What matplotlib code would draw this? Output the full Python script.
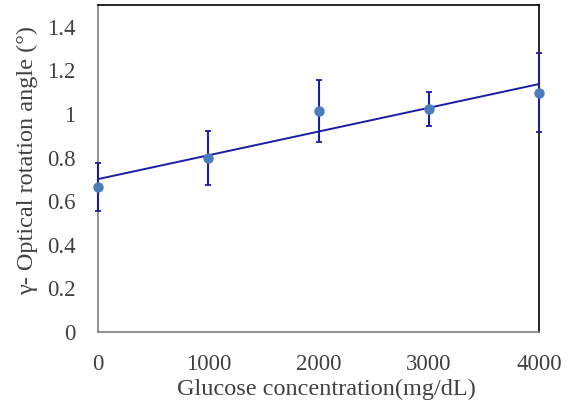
import matplotlib
matplotlib.use("Agg")
import matplotlib.pyplot as plt
import numpy as np
from matplotlib.ticker import FuncFormatter

# Data
glucose = [0, 1000, 2000, 3000, 4000]
angle = [0.665, 0.798, 1.014, 1.022, 1.098]
err = [0.108, 0.122, 0.142, 0.077, 0.182]
yticks = [0, 0.2, 0.4, 0.6, 0.8, 1.0, 1.2, 1.4]
xticks = [0, 1000, 2000, 3000, 4000]

plt.rcParams['font.family'] = ['Liberation Serif', 'DejaVu Serif']

fig = plt.figure(figsize=(5.7, 4.07), dpi=100)
ax = fig.add_axes([98/570, 75/407, 441/570, 327/407])

# trendline
coef = np.polyfit(glucose, angle, 1)
xs = np.array([glucose[0], glucose[-1]])
ax.plot(xs, np.polyval(coef, xs), color='#1c1ca6', lw=1.4, zorder=2)

ax.errorbar(glucose, angle, yerr=err, fmt='none', ecolor='#1c1ca6',
            elinewidth=1.5, capsize=2.5, capthick=1.3, zorder=3, clip_on=False)
ax.plot(glucose, angle, 'o', color='#4a7ebb', markersize=6.5, zorder=4, clip_on=False)

ax.set_xlim(0, 4000)
ax.set_ylim(0, 1.5)
ax.set_xticks(xticks)
ax.set_yticks(yticks)
ax.yaxis.set_major_formatter(FuncFormatter(lambda v, p: '%g' % v))
ax.tick_params(axis='both', length=0, labelsize=16.5, colors='#404040')
ax.tick_params(axis='y', pad=16)
ax.tick_params(axis='x', pad=16)

ax.spines['left'].set_color('#7f7f7f')
ax.spines['bottom'].set_color('#7f7f7f')
ax.spines['top'].set_color('black')
ax.spines['right'].set_color('black')
for s in ax.spines.values():
    s.set_linewidth(1.2)

ax.set_xlabel('Glucose concentration(mg/dL)', fontsize=17.5, color='#404040')
ax.set_ylabel('γ- Optical rotation angle (°)', fontsize=17.5, color='#404040')
ax.xaxis.set_label_coords(0.519, -0.142)
ax.yaxis.set_label_coords(-0.135, 0.525)

fig.savefig('out.png', dpi=100)
